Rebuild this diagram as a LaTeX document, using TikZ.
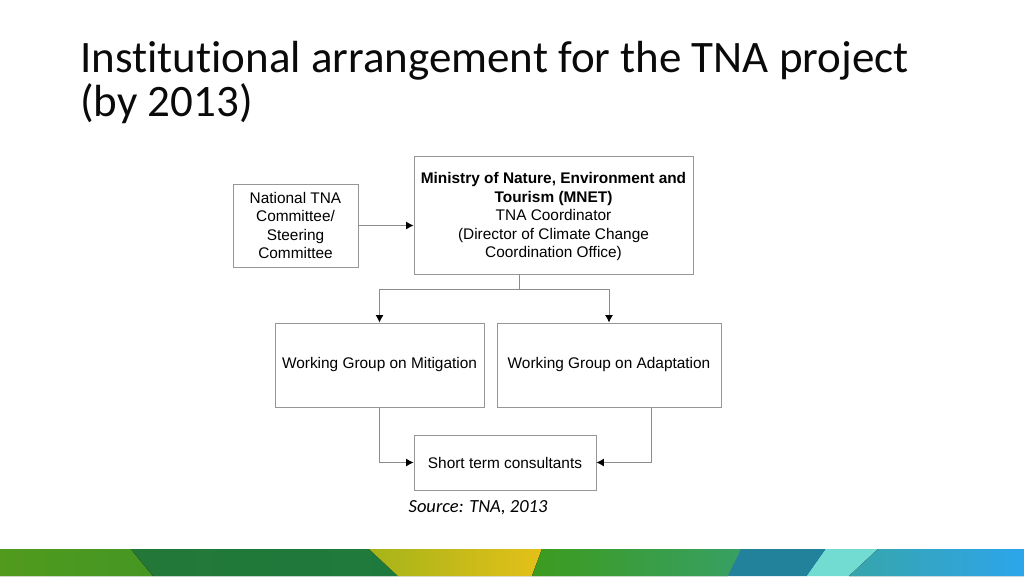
\documentclass[tikz,border=0pt]{standalone}
\usepackage{fontspec}
\setmainfont{Liberation Sans}
\newfontfamily\titlefont[Ligatures=NoCommon]{Carlito}
\usetikzlibrary{arrows.meta}

\definecolor{boxgray}{RGB}{150,150,150}
\definecolor{linegray}{RGB}{140,140,140}
\definecolor{titlegray}{RGB}{10,10,10}
% band colours
\definecolor{bandA}{RGB}{80,155,30}
\definecolor{bandAr}{RGB}{70,150,35}
\definecolor{bandB}{RGB}{35,120,55}
\definecolor{bandBr}{RGB}{30,122,60}
\definecolor{bandC}{RGB}{165,180,25}
\definecolor{bandCr}{RGB}{228,192,25}
\definecolor{bandD}{RGB}{60,155,30}
\definecolor{bandDr}{RGB}{55,160,100}
\definecolor{bandE}{RGB}{35,130,155}
\definecolor{bandF}{RGB}{115,220,210}
\definecolor{bandG}{RGB}{55,165,170}
\definecolor{bandGr}{RGB}{45,165,235}

\begin{document}
\begin{tikzpicture}[x=1pt, y=-1pt,
    box/.style={draw=boxgray, line width=0.9pt, inner sep=0pt, align=center, font=\fontsize{15.4}{18.5}\selectfont},
    conn/.style={draw=linegray, line width=1pt},
    arr/.style={conn, -{Latex[length=7.5pt,width=8pt,color=black]}}]
    \useasboundingbox (0,0) rectangle (1024,576);

    % Title
    \node[anchor=base west, inner sep=0pt, text=titlegray, font=\titlefont\fontsize{45}{45}\selectfont] (title1) at (80,72) {Institutional arrangement for the TNA project};
    \node[anchor=base west, inner sep=0pt, text=titlegray, font=\titlefont\fontsize{45}{45}\selectfont] (title2) at (80,116) {(by 2013)};

    % Boxes
    \node[box, minimum width=125pt, minimum height=83pt] (committee) at (295.5,225.5) {National TNA\\Committee/\\Steering\\Committee};
    \node[box, minimum width=279pt, minimum height=118pt] (mnet) at (553.5,215) {\rule{0pt}{15pt}\textbf{Ministry of Nature, Environment and}\\\textbf{Tourism (MNET)}\\TNA Coordinator\\(Director of Climate Change\\Coordination Office)};
    \node[box, minimum width=209pt, minimum height=84pt] (mitigation) at (379.5,365) {Working Group on Mitigation};
    \node[box, minimum width=224pt, minimum height=84pt] (adaptation) at (609,365) {Working Group on Adaptation};
    \node[box, minimum width=182pt, minimum height=55pt] (consultants) at (505,462.5) {Short term consultants};

    % Source
    \node[inner sep=0pt, font=\titlefont\itshape\fontsize{18.5}{20}\selectfont] (source) at (478,508) {Source: TNA, 2013};

    % Connectors
    \coordinate (split) at (519,289);
    \coordinate (adaptout) at (651,407);
    \draw[arr] (committee.east) -- (mnet.west |- committee.east);
    \draw[conn] (mnet.south -| split) -- (split);
    \draw[arr] (split) -| (mitigation.north);
    \draw[arr] (split) -| (adaptation.north);
    \draw[arr] (mitigation.south) |- (consultants.west);
    \draw[arr] (adaptout) |- (consultants.east);

    % Bottom band
    \fill[left color=bandA, right color=bandAr] (0,549) -- (131,549) -- (153,576) -- (0,576) -- cycle;
    \fill[left color=bandB, right color=bandBr] (131,549) -- (369,549) -- (398,576) -- (153,576) -- cycle;
    \fill[left color=bandC, right color=bandCr] (369,549) -- (542,549) -- (532,576) -- (398,576) -- cycle;
    \fill[left color=bandD, right color=bandDr] (542,549) -- (741,549) -- (728,576) -- (532,576) -- cycle;
    \fill[bandE] (741,549) -- (826,549) -- (807,576) -- (728,576) -- cycle;
    \fill[bandF] (826,549) -- (878,549) -- (849,576) -- (807,576) -- cycle;
    \fill[left color=bandG, right color=bandGr] (878,549) -- (1024,549) -- (1024,576) -- (849,576) -- cycle;
\end{tikzpicture}
\end{document}
